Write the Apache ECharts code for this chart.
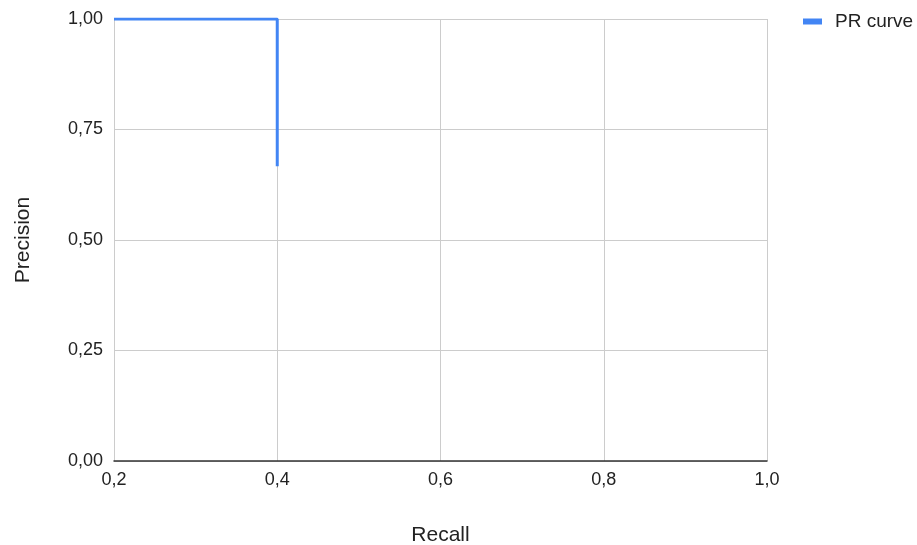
<!DOCTYPE html>
<html>
<head>
<meta charset="utf-8">
<script src="https://cdn.jsdelivr.net/npm/echarts@6/dist/echarts.min.js"></script>
<style>
  html, body { margin: 0; padding: 0; background: #fff; }
  #chart { width: 917px; height: 545px; }
</style>
</head>
<body>
<div id="chart"></div>
<script>
// Precision-recall curve points
const recall = [0.2, 0.4, 0.4];
const precision = [1.0, 1.0, 0.667];
const seriesName = 'PR curve';

const xTicks = { min: 0.2, max: 1.0, interval: 0.2 };
const yTicks = { min: 0, max: 1, interval: 0.25 };

const font = 'Liberation Sans, Arial, sans-serif';
const comma = (v, d) => v.toFixed(d).replace('.', ',');

const chart = echarts.init(document.getElementById('chart'));
chart.setOption({
  animation: false,
  textStyle: { fontFamily: font },
  grid: {
    left: 114, right: 150, top: 19, bottom: 84,
    containLabel: false,
    outerBoundsMode: 'none'
  },
  legend: {
    left: 803, top: 12,
    padding: 0,
    itemWidth: 19, itemHeight: 6,
    icon: 'rect',
    itemGap: 10,
    textStyle: { fontSize: 19, color: '#222', fontFamily: font, padding: [0, 0, 0, 8] },
    data: [seriesName]
  },
  xAxis: {
    type: 'value',
    min: xTicks.min, max: xTicks.max, interval: xTicks.interval,
    name: 'Recall', nameLocation: 'middle', nameGap: 64,
    nameMoveOverlap: false,
    nameTextStyle: { fontSize: 21, color: '#222' },
    axisLine: { show: true, lineStyle: { color: '#333', width: 1.5 } },
    axisTick: { show: false },
    axisLabel: { fontSize: 18, color: '#222', margin: 10, formatter: v => comma(v, 1) },
    splitLine: { show: true, lineStyle: { color: '#ccc', width: 1 } }
  },
  yAxis: {
    type: 'value',
    min: yTicks.min, max: yTicks.max, interval: yTicks.interval,
    name: 'Precision', nameLocation: 'middle', nameGap: 80,
    nameMoveOverlap: false,
    nameTextStyle: { fontSize: 21, color: '#222' },
    axisLine: { show: false },
    axisTick: { show: false },
    axisLabel: { fontSize: 18, color: '#222', margin: 11, formatter: v => comma(v, 2) },
    splitLine: { show: true, lineStyle: { color: '#ccc', width: 1 } }
  },
  series: [{
    name: seriesName,
    type: 'line',
    data: recall.map((r, i) => [r, precision[i]]),
    showSymbol: false,
    symbol: 'none',
    lineStyle: { color: '#4285f4', width: 3 },
    itemStyle: { color: '#4285f4' }
  }]
});
</script>
</body>
</html>
